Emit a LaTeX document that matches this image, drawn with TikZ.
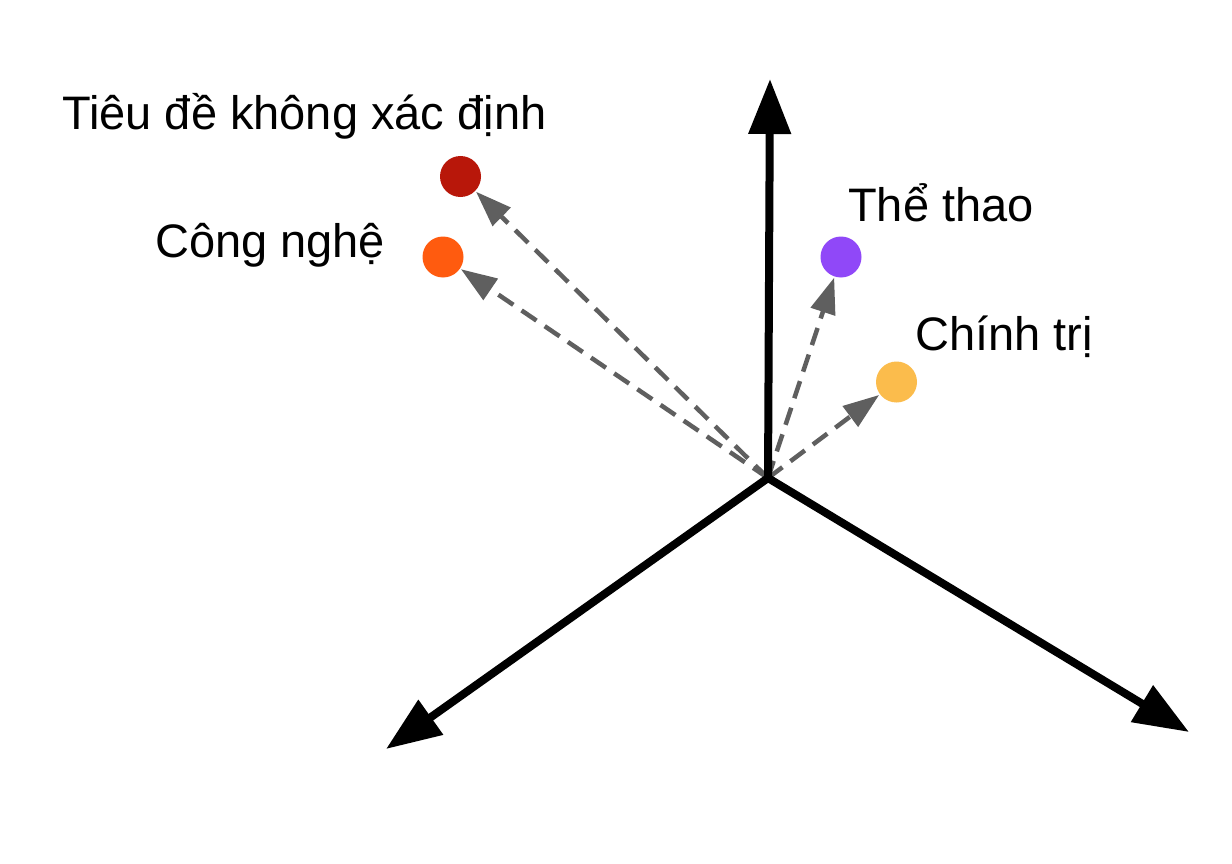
\documentclass[tikz,border=0pt]{standalone}
\usepackage{fontspec}
\setmainfont{Liberation Sans}
\usetikzlibrary{arrows.meta,calc}
\definecolor{cred}{HTML}{B8170A}
\definecolor{corange}{HTML}{FF5B0F}
\definecolor{cpurple}{HTML}{9048F8}
\definecolor{cyellow}{HTML}{FBBC4C}
\definecolor{cgray}{HTML}{5F5F5F}
\tikzset{
  axis/.style={line width=8pt, black, -{Triangle[length=55pt,width=41pt]}},
  vec/.style={line width=4.5pt, cgray, dash pattern=on 18pt off 10pt, -{Triangle[length=36pt,width=25pt]}, shorten >=1pt},
  dot/.style={circle, minimum size=41pt, inner sep=0pt, draw=none},
  lbl/.style={anchor=base west, inner sep=0pt, font=\fontsize{47}{56}\selectfont}
}
\begin{document}
\begin{tikzpicture}[x=1pt,y=-1pt]
\useasboundingbox (0,0) rectangle (1232,864);
\fill[white] (0,0) rectangle (1232,864);
% origin and axis tips
\coordinate (o) at (768,478);
\coordinate (obase) at (768,482);
\coordinate (ytip) at (770,79);
\coordinate (ltip) at (386,749);
\coordinate (rtip) at (1189,732);
% dots
\node[dot, fill=cred] (red) at (460.5,176.5) {};
\node[dot, fill=corange] (orange) at (443,257) {};
\node[dot, fill=cpurple] (purple) at (841,257) {};
\node[dot, fill=cyellow] (yellow) at (896.5,382) {};
% labels
\node[lbl] (t1) at (62,130) {Tiêu đề không xác định};
\node[lbl] (t2) at (155,257) {Công nghệ};
\node[lbl] (t3) at (848,222) {Thể thao};
\node[lbl] (t4) at (915,350) {Chính trị};
% dashed vectors
\draw[vec] (o) -- (red);
\draw[vec] (o) -- (orange);
\draw[vec] (o) -- (purple);
\draw[vec] (o) -- (yellow);
% axes
\draw[axis] (obase) -- (ytip);
\draw[line width=8pt, black, {Triangle[length=55pt,width=41pt]}-{Triangle[length=55pt,width=41pt]}, line join=miter] (ltip) -- (o) -- (rtip);
\end{tikzpicture}
\end{document}
